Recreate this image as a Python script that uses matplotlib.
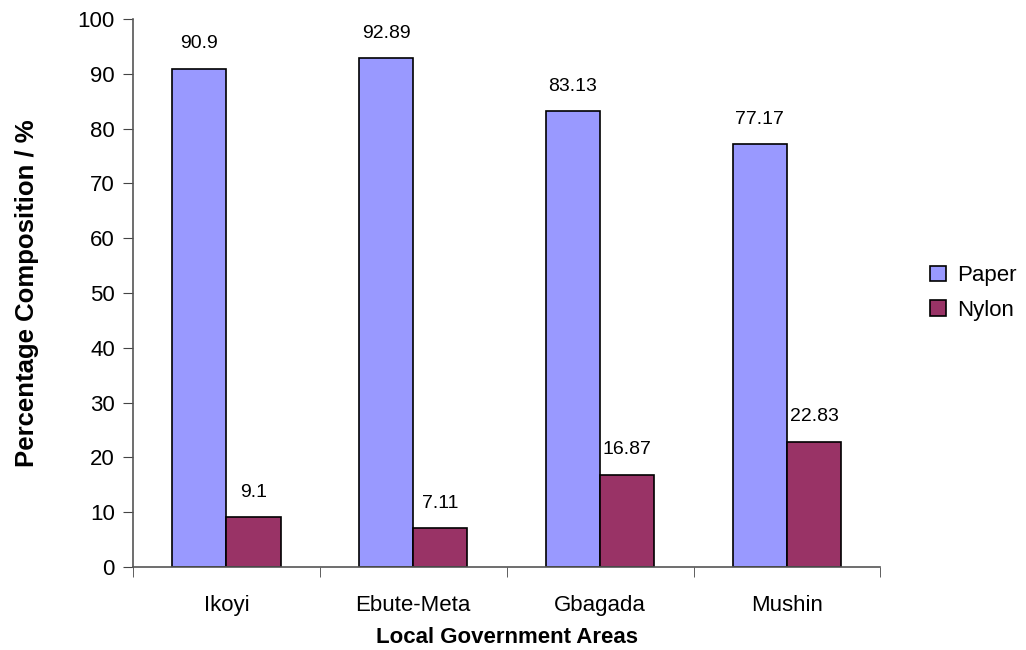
import numpy as np
import matplotlib.pyplot as plt
from matplotlib.ticker import FixedLocator

plt.rcParams['font.family'] = ['Liberation Sans', 'DejaVu Sans']

areas = ['Ikoyi', 'Ebute-Meta', 'Gbagada', 'Mushin']
paper = [90.9, 92.89, 83.13, 77.17]
nylon = [9.1, 7.11, 16.87, 22.83]
paper_lbl = ['90.9', '92.89', '83.13', '77.17']
nylon_lbl = ['9.1', '7.11', '16.87', '22.83']

fig = plt.figure(figsize=(10.26, 6.5), dpi=100)
ax = fig.add_axes([0.1296, 0.1277, 0.7285, 0.843])

x = np.arange(len(areas))
w = 0.29
b1 = ax.bar(x - w/2, paper, w, color='#9999ff', edgecolor='black', linewidth=1.2, label='Paper')
b2 = ax.bar(x + w/2, nylon, w, color='#993366', edgecolor='black', linewidth=1.2, label='Nylon')

# value labels over the bars
for rect, t in zip(b1, paper_lbl):
    ax.text(rect.get_x() + rect.get_width()/2, rect.get_height() + 3, t,
            ha='center', va='bottom', fontsize=14)
for rect, t in zip(b2, nylon_lbl):
    ax.text(rect.get_x() + rect.get_width()/2, rect.get_height() + 3, t,
            ha='center', va='bottom', fontsize=14)

ax.set_xlim(-0.5, 3.5)
ax.set_ylim(0, 100)
ax.set_yticks(range(0, 101, 10))
ax.set_xticks(x)
ax.set_xticklabels(areas, fontsize=16)
ax.xaxis.set_minor_locator(FixedLocator([-0.5, 0.5, 1.5, 2.5, 3.5]))
ax.tick_params(axis='x', which='major', length=0, pad=20)
ax.tick_params(axis='x', which='minor', length=7, color='#444444')
ax.tick_params(axis='y', labelsize=16, length=7, color='#444444', pad=6)

for s in ['top', 'right']:
    ax.spines[s].set_visible(False)
for s in ['left', 'bottom']:
    ax.spines[s].set_color('#555555')
    ax.spines[s].set_linewidth(1.2)

ax.set_xlabel('Local Government Areas', fontsize=16, fontweight='bold', labelpad=8)
ax.set_ylabel('Percentage Composition / %', fontsize=18.5, fontweight='bold', labelpad=28)

ax.legend(loc='center left', bbox_to_anchor=(1.04, 0.5), frameon=False, fontsize=16,
          handlelength=0.7, handleheight=0.7, handletextpad=0.5, labelspacing=0.6)

fig.savefig('out.png', dpi=100)
